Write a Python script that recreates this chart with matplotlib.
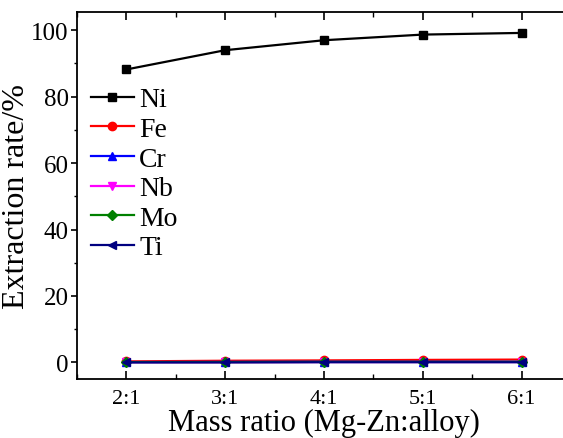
import numpy as np
import matplotlib.pyplot as plt
from matplotlib.ticker import MultipleLocator

plt.rcParams['font.family'] = ['Liberation Serif', 'DejaVu Serif']
plt.rcParams['mathtext.fontset'] = 'stix'

# 质量比
ratios = ['2:1', '3:1', '4:1', '5:1', '6:1']
x = np.array([2, 3, 4, 5, 6])

# 各元素浸出率
ni = [88.2, 94.0, 97.0, 98.7, 99.2]
fe = [0.3, 0.5, 0.6, 0.75, 0.85]
cr = [0.1, 0.15, 0.2, 0.2, 0.2]
nb = [0.05, 0.05, 0.1, 0.1, 0.1]
mo = [0.1, 0.1, 0.15, 0.15, 0.15]
ti = [0.0, 0.0, 0.05, 0.05, 0.05]

series = [('Ni', ni, 'black', 's'),
          ('Fe', fe, 'red', 'o'),
          ('Cr', cr, 'blue', '^'),
          ('Nb', nb, 'magenta', 'v'),
          ('Mo', mo, 'green', 'D'),
          ('Ti', ti, 'navy', '<')]

fig = plt.figure(figsize=(5.63, 4.39), dpi=100)
ax = fig.add_axes([77/563, 1-380/439, 494/563, 367/439])

for name, vals, c, m in series:
    ms = 6 if m != 'D' else 5
    ax.plot(x, vals, color=c, marker=m, markersize=ms, linewidth=1.6, label=name)

ax.set_xlim(1.5, 6.5)
ax.set_ylim(-5, 105.5)
ax.set_xticks(x)
ax.set_xticklabels(ratios)
ax.xaxis.set_minor_locator(MultipleLocator(0.5))
ax.set_yticks([0, 20, 40, 60, 80, 100])
ax.yaxis.set_minor_locator(MultipleLocator(10))

ax.tick_params(axis='x', which='both', direction='in', top=True, labelsize=16, pad=7)
ax.tick_params(axis='x', which='major', length=6, width=1.2)
ax.tick_params(axis='x', which='minor', length=3.5, width=1.0)
ax.tick_params(axis='y', which='both', direction='out', labelsize=18, pad=2)
ax.tick_params(axis='y', which='major', length=4, width=1.2)
ax.tick_params(axis='y', which='minor', length=2.5, width=1.0)
for s in ax.spines.values():
    s.set_linewidth(1.3)
ax.spines['right'].set_visible(False)

ax.set_xlabel('Mass ratio (Mg-Zn:alloy)', fontsize=22, labelpad=0)
ax.set_ylabel('Extraction rate/%', fontsize=23, labelpad=0)

leg = ax.legend(loc='upper left', bbox_to_anchor=(-0.02, 0.86), frameon=False,
                fontsize=20, handlelength=1.55, handletextpad=0.2,
                labelspacing=0.15, borderaxespad=0.45)

fig.savefig('out.png', dpi=100)
